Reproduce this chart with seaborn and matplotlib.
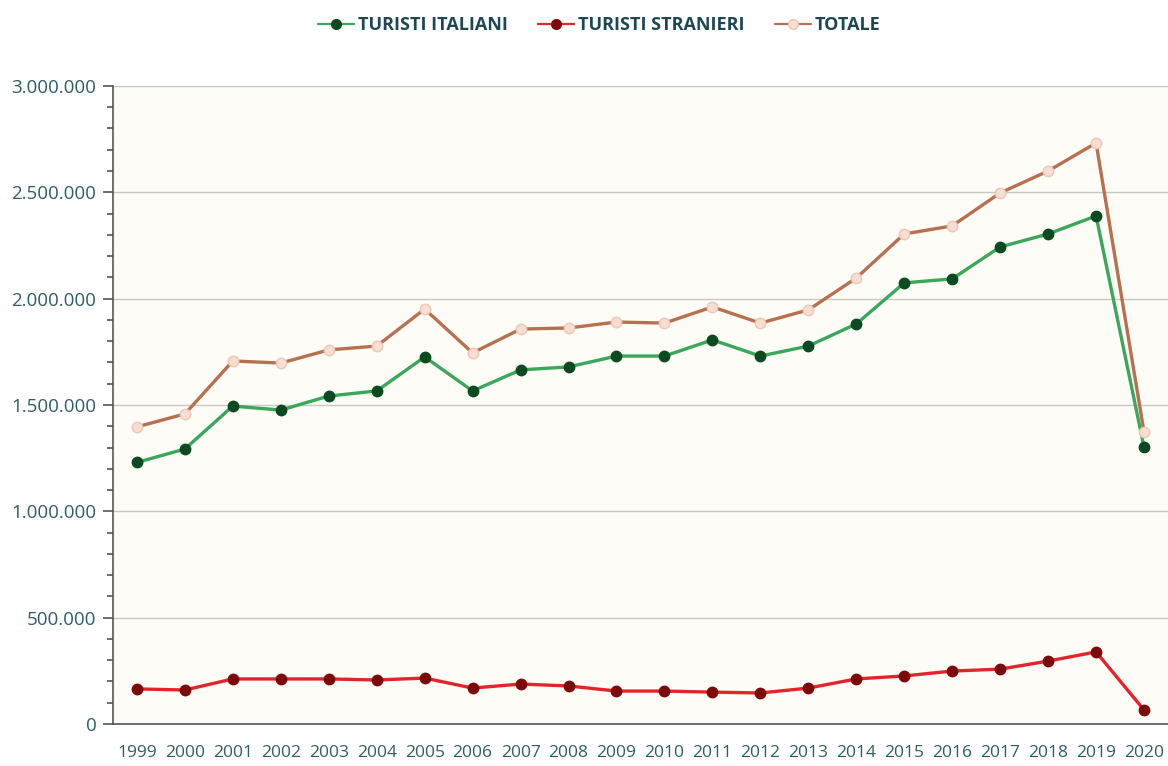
import pandas as pd
import numpy as np
import matplotlib
matplotlib.use('Agg')
import matplotlib.pyplot as plt
from matplotlib.ticker import FuncFormatter, MultipleLocator, FixedLocator
from matplotlib.lines import Line2D
import seaborn as sns

years = [str(y) for y in range(1999, 2021)]
italiani = [1230000, 1293000, 1495000, 1476000, 1542000, 1566000, 1726000, 1566000,
            1665000, 1679000, 1730000, 1730000, 1806000, 1730000, 1777000, 1881000,
            2074000, 2093000, 2243000, 2304000, 2389000, 1302000]
stranieri = [165000, 160000, 212000, 212000, 212000, 207000, 216000, 169000,
             188000, 179000, 155000, 155000, 150000, 146000, 169000, 212000,
             226000, 249000, 258000, 296000, 339000, 66000]
totale = [1397000, 1458000, 1707000, 1697000, 1759000, 1777000, 1951000, 1745000,
          1857000, 1862000, 1890000, 1885000, 1961000, 1885000, 1947000, 2097000,
          2304000, 2342000, 2497000, 2600000, 2732000, 1373000]

series = [
    ('TURISTI ITALIANI', italiani, '#3aa75a', '#0d4a22', '#0d4a22'),
    ('TURISTI STRANIERI', stranieri, '#e3242b', '#7c0a0a', '#7c0a0a'),
    ('TOTALE', totale, '#b8704f', '#f9ddd0', '#e8c8b8'),
]

text_col = '#2f5d66'


def main():
    sns.set_style('white')
    plt.rcParams['font.family'] = ['Open Sans', 'DejaVu Sans']

    fig = plt.figure(figsize=(11.68, 7.66), dpi=100)
    ax = fig.add_axes([0.0967, 0.0548, 0.9033, 0.833])
    ax.set_facecolor('#fdfcf6')

    x = np.arange(len(years))
    handles = []
    for name, vals, lc, mfc, mec in series:
        df = pd.DataFrame({'x': x, 'y': vals})
        sns.lineplot(data=df, x='x', y='y', ax=ax, color=lc, linewidth=2.4,
                     marker='o', markersize=7.5, markerfacecolor=mfc,
                     markeredgecolor=mec, markeredgewidth=1, zorder=3)
        handles.append(Line2D([], [], color=lc, linewidth=1.6, marker='o',
                              markersize=7, markerfacecolor=mfc, markeredgecolor=mec,
                              label=name))

    ax.set_xlim(-0.5, len(years) - 0.5)
    ax.set_ylim(0, 3000000)
    ax.set_xlabel('')
    ax.set_ylabel('')

    ax.yaxis.set_major_locator(MultipleLocator(500000))
    ax.yaxis.set_minor_locator(MultipleLocator(100000))
    ax.yaxis.set_major_formatter(FuncFormatter(lambda v, p: f'{int(v):,}'.replace(',', '.')))
    ax.grid(axis='y', which='major', color='#c9c9c4', linewidth=1)
    ax.set_axisbelow(True)

    ax.set_xticks(x)
    ax.set_xticklabels(years)
    ax.xaxis.set_minor_locator(FixedLocator(np.arange(-0.5, len(years), 1.0)))
    ax.tick_params(axis='x', which='major', length=0, pad=15, labelsize=12.5, labelcolor=text_col)
    ax.tick_params(axis='x', which='minor', length=7, width=1.2, color='#555555', direction='out')
    ax.tick_params(axis='y', which='major', length=7, width=1.2, color='#555555',
                   labelsize=13.5, labelcolor=text_col, pad=5, left=True)
    ax.tick_params(axis='y', which='minor', length=4, width=1.2, color='#555555',
                   direction='out', left=True)

    for s in ['top', 'right']:
        ax.spines[s].set_visible(False)
    for s in ['left', 'bottom']:
        ax.spines[s].set_color('#555555')
        ax.spines[s].set_linewidth(1.2)

    leg = fig.legend(handles=handles, loc='upper center', bbox_to_anchor=(0.513, 1.0),
                     ncol=3, frameon=False, handlelength=2.0, handletextpad=0.2,
                     columnspacing=1.7, prop={'weight': 'bold', 'size': 13})
    for t in leg.get_texts():
        t.set_color('#1c4753')

    fig.savefig('out.png', dpi=100, facecolor='white')


if __name__ == "__main__":
    main()
